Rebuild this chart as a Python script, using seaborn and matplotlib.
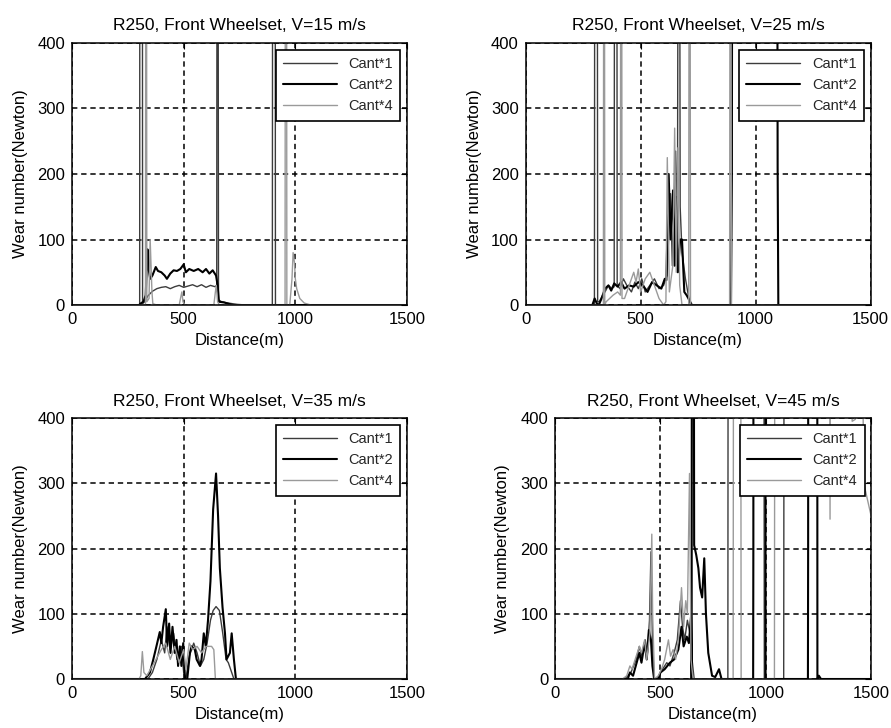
import matplotlib
matplotlib.use("Agg")
import matplotlib.pyplot as plt
import pandas as pd
import seaborn as sns

# ---------------------------------------------------------------------------
# Wear number along the track, R250 curve, front wheelset.
# Each series is a list of (distance [m], wear number [N]) points.
# Values above 400 run off the top of the axes.
# ---------------------------------------------------------------------------
series_names = ["Cant*1", "Cant*2", "Cant*4"]
speeds = [15, 25, 35, 45]
x_ticks = [0, 500, 1000, 1500]
y_ticks = [0, 100, 200, 300, 400]

# V = 15 m/s
v15_cant1 = [(0, 0), (295, 0), (303, 0), (304, 1000), (315, 1000), (316, 2), (325, 5),
             (340, 14), (360, 21), (380, 25), (400, 27), (420, 28), (440, 25), (460, 28),
             (480, 30), (500, 27), (520, 29), (540, 31), (560, 28), (580, 31), (600, 27),
             (620, 30), (640, 28), (648, 30), (650, 1000), (653, 1000), (656, 8), (670, 5),
             (700, 3), (740, 1), (780, 0), (897, 0), (899, 1000), (909, 1000), (911, 0),
             (1500, 0)]
v15_cant2 = [(0, 0), (300, 0), (310, 3), (320, 5), (330, 15), (338, 85), (343, 55),
             (350, 40), (360, 45), (375, 58), (385, 52), (400, 50), (415, 45), (425, 40),
             (440, 48), (455, 53), (470, 52), (485, 55), (500, 62), (510, 50), (525, 55),
             (545, 52), (565, 55), (585, 50), (600, 55), (615, 48), (630, 53), (645, 45),
             (652, 30), (658, 5), (680, 4), (700, 2), (720, 0), (1500, 0)]
v15_cant4 = [(0, 0), (325, 0), (329, 0), (331, 1000), (333, 1000), (335, 5), (345, 10),
             (350, 100), (354, 60), (358, 20), (362, 2), (380, 0), (480, 0), (487, 12),
             (492, 20), (497, 5), (505, 0), (635, 0), (642, 20), (646, 30), (652, 5),
             (660, 0), (954, 0), (956, 1000), (960, 1000), (962, 0), (975, 0), (985, 40),
             (990, 80), (996, 65), (1000, 40), (1006, 25), (1020, 10), (1040, 3),
             (1070, 0), (1500, 0)]

# V = 25 m/s
v25_cant1 = [(0, 0), (295, 0), (299, 0), (301, 1000), (311, 1000), (313, 5), (320, 5),
             (335, 15), (345, 20), (360, 30), (375, 25), (385, 28), (387, 1000),
             (396, 1000), (398, 30), (410, 25), (425, 40), (440, 30), (460, 20), (475, 35),
             (490, 25), (505, 40), (520, 20), (540, 30), (560, 40), (580, 25), (600, 30),
             (615, 45), (630, 170), (638, 60), (652, 235), (660, 90), (665, 1000),
             (668, 1000), (672, 150), (680, 80), (695, 40), (710, 10), (725, 0), (1500, 0)]
v25_cant2 = [(0, 0), (290, 0), (300, 10), (310, 2), (318, 0), (330, 10), (345, 25),
             (360, 30), (372, 22), (385, 33), (400, 28), (415, 35), (430, 25), (450, 30),
             (470, 28), (490, 35), (510, 30), (530, 20), (550, 35), (570, 30), (590, 25),
             (605, 40), (612, 38), (622, 200), (630, 100), (641, 175), (648, 60), (655, 165),
             (662, 50), (672, 100), (680, 100), (690, 20), (700, 15), (708, 10), (720, 0),
             (893, 0), (897, 200), (899, 1000), (1093, 1000), (1096, 210), (1099, 0),
             (1500, 0)]
v25_cant4 = [(0, 0), (335, 0), (338, 0), (340, 1000), (342, 1000), (344, 0), (350, 5),
             (380, 15), (400, 20), (412, 15), (414, 1000), (417, 1000), (419, 10), (430, 10),
             (450, 30), (470, 50), (480, 35), (490, 55), (500, 20), (520, 40), (540, 50),
             (560, 30), (580, 10), (600, 0), (610, 5), (616, 225), (625, 20), (640, 60),
             (648, 270), (655, 50), (662, 240), (670, 30), (680, 0), (709, 0), (712, 1000),
             (714, 1000), (717, 0), (887, 0), (890, 1000), (892, 1000), (895, 0), (1500, 0)]

# V = 35 m/s
v35_cant1 = [(0, 0), (340, 0), (360, 10), (380, 30), (400, 60), (415, 40), (425, 80),
             (440, 45), (455, 70), (470, 30), (490, 50), (500, 10), (510, 0), (525, 35),
             (545, 55), (560, 40), (575, 20), (590, 30), (605, 55), (620, 90), (632, 105),
             (645, 111), (660, 105), (675, 70), (690, 30), (700, 25), (715, 10), (725, 0),
             (1500, 0)]
v35_cant2 = [(0, 0), (327, 0), (349, 10), (364, 30), (378, 50), (393, 72), (400, 55),
             (408, 80), (420, 107), (426, 50), (435, 85), (441, 40), (450, 80), (460, 40),
             (468, 60), (475, 20), (483, 50), (490, 20), (498, 55), (506, 0), (516, 0),
             (528, 40), (535, 50), (550, 45), (558, 30), (573, 20), (580, 30), (590, 70),
             (599, 50), (609, 90), (620, 150), (632, 260), (645, 315), (654, 250),
             (662, 170), (674, 110), (685, 70), (692, 30), (707, 40), (715, 70), (725, 30),
             (734, 0), (1500, 0)]
v35_cant4 = [(0, 0), (300, 0), (308, 5), (315, 42), (322, 10), (335, 5), (360, 20),
             (400, 45), (420, 55), (440, 30), (460, 50), (480, 25), (500, 45), (510, 15),
             (525, 55), (540, 45), (560, 50), (580, 40), (600, 50), (625, 50), (635, 45),
             (642, 0), (1500, 0)]

# V = 45 m/s
v45_cant1 = [(0, 0), (330, 0), (360, 10), (385, 30), (400, 50), (410, 35), (428, 60),
             (438, 40), (448, 90), (455, 195), (462, 60), (470, 0), (485, 0), (500, 10),
             (530, 25), (545, 20), (565, 40), (580, 60), (595, 120), (605, 80), (615, 60),
             (628, 90), (640, 70), (650, 30), (660, 0), (820, 0), (822, 1000), (990, 1000),
             (993, 0), (1085, 0), (1088, 1000), (1500, 1000)]
v45_cant2 = [(0, 0), (345, 0), (355, 10), (370, 5), (400, 40), (410, 25), (425, 55),
             (435, 30), (445, 75), (455, 60), (462, 20), (470, 0), (490, 0), (500, 10),
             (520, 15), (545, 25), (565, 30), (585, 45), (600, 80), (610, 50), (625, 65),
             (635, 55), (645, 95), (648, 0), (650, 1000), (657, 1000), (660, 205),
             (670, 190), (680, 170), (688, 140), (698, 125), (708, 185), (716, 100),
             (727, 40), (745, 5), (760, 3), (778, 15), (790, 0), (940, 0), (941, 200),
             (942, 1000), (998, 1000), (999, 0), (1200, 0), (1201, 200), (1202, 1000),
             (1244, 1000), (1245, 0), (1252, 5), (1262, 0), (1500, 0)]
v45_cant4 = [(0, 0), (320, 0), (340, 5), (355, 20), (365, 15), (385, 35), (400, 50),
             (410, 40), (425, 60), (435, 30), (450, 70), (459, 222), (463, 100), (472, 0),
             (490, 5), (505, 15), (520, 30), (538, 60), (548, 35), (560, 45), (572, 30),
             (585, 60), (600, 140), (610, 80), (620, 120), (628, 100), (638, 315), (645, 30),
             (655, 0), (845, 0), (848, 1000), (880, 1000), (883, 0), (1041, 0), (1044, 1000),
             (1300, 1000), (1305, 245), (1310, 1000), (1400, 1000), (1410, 395), (1425, 398),
             (1430, 1000), (1445, 1000), (1465, 300), (1500, 250)]

panels = [
    [v15_cant1, v15_cant2, v15_cant4],
    [v25_cant1, v25_cant2, v25_cant4],
    [v35_cant1, v35_cant2, v35_cant4],
    [v45_cant1, v45_cant2, v45_cant4],
]

line_colors = {"Cant*1": "#3c3c3c", "Cant*2": "#000000", "Cant*4": "#9a9a9a"}
line_widths = {"Cant*1": 1.0, "Cant*2": 1.5, "Cant*4": 1.0}

sns.set_theme(style="white")
plt.rcParams["font.family"] = ["Liberation Sans", "DejaVu Sans"]

fig = plt.figure(figsize=(8.91, 7.28), dpi=100)
fig.patch.set_facecolor("white")

# axes boxes in figure fractions: left, bottom, width, height
boxes = [
    (0.0808, 0.581, 0.376, 0.360),
    (0.590, 0.581, 0.387, 0.360),
    (0.0808, 0.0673, 0.376, 0.3585),
    (0.623, 0.0673, 0.3547, 0.3585),
]
ylabel_x = [-0.131, -0.128, -0.131, -0.142]

for i, (speed, series, box) in enumerate(zip(speeds, panels, boxes)):
    ax = fig.add_axes(box)
    rows = []
    for name, pts in zip(series_names, series):
        for d, w in pts:
            rows.append((name, d, w))
    df = pd.DataFrame(rows, columns=["series", "distance", "wear"])

    sns.lineplot(data=df, x="distance", y="wear", hue="series", hue_order=series_names,
                 palette=line_colors, size="series", size_order=series_names,
                 sizes=line_widths, estimator=None, sort=False, legend=False, ax=ax)

    ax.set_xlim(x_ticks[0], x_ticks[-1])
    ax.set_ylim(y_ticks[0], y_ticks[-1])
    ax.set_xticks(x_ticks)
    ax.set_yticks(y_ticks)
    ax.tick_params(direction="in", length=4, width=0.8, top=True, right=True,
                   labelsize=12, colors="black", pad=5)
    ax.grid(True, color="black", linestyle=(0, (3.5, 2.5)), linewidth=1.1)
    for sp in ax.spines.values():
        sp.set_color("black")
        sp.set_linewidth(1.1)

    ax.set_title(f"R250, Front Wheelset, V={speed} m/s", fontsize=12.5, pad=9,
                 color="black")
    ax.set_xlabel("Distance(m)", fontsize=12, labelpad=4, color="black")
    ax.set_ylabel("Wear number(Newton)", fontsize=12, color="black")
    ax.yaxis.set_label_coords(ylabel_x[i], 0.5)

    leg = ax.legend(ax.lines[:3], series_names, loc="upper right", fontsize=10.5,
                    frameon=True, fancybox=False, framealpha=1, edgecolor="black",
                    handlelength=3.7, handletextpad=0.8, labelspacing=0.5,
                    borderpad=0.5, borderaxespad=0.45)
    leg.get_frame().set_linewidth(1.2)

fig.savefig("out.png", dpi=100, facecolor="white")
